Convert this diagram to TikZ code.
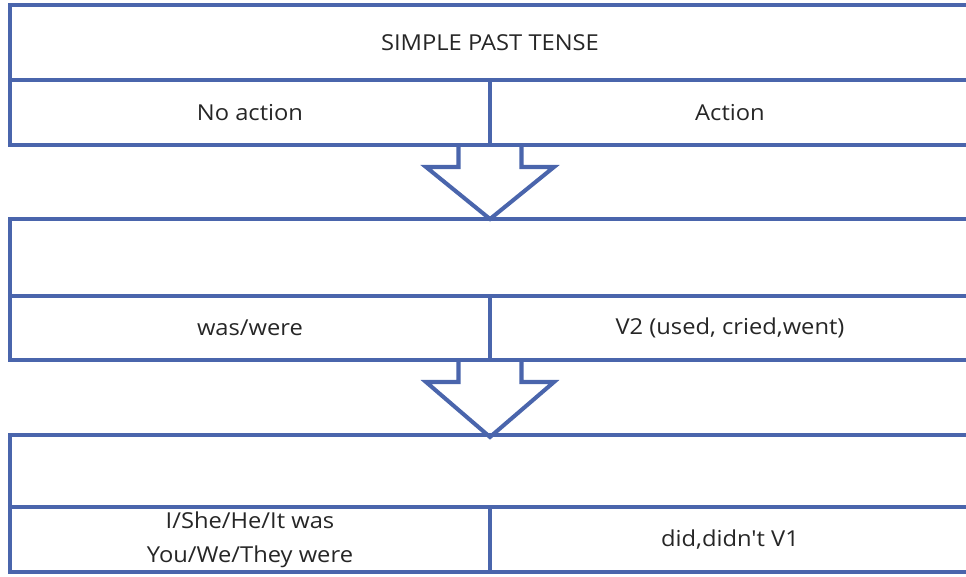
\documentclass[tikz,border=0pt]{standalone}
\usepackage{fontspec}
\setmainfont{Open Sans}[FakeStretch=1.08,Ligatures=TeXOff]
\usetikzlibrary{calc}
\definecolor{tableblue}{RGB}{74,101,172}
\definecolor{textgray}{RGB}{38,38,38}

\begin{document}
\begin{tikzpicture}
    \tikzstyle{frame} = [draw=tableblue, line width=2.3pt, line join=miter]
    \tikzstyle{headrow} = [frame, rectangle, anchor=north west, inner sep=0pt, outer sep=0pt, minimum width=19.2cm, text=textgray, font=\fontsize{12.5}{19.4}\selectfont]
    \tikzstyle{cell} = [frame, rectangle, anchor=north west, inner sep=0pt, outer sep=0pt, minimum width=9.6cm, align=center, text=textgray, font=\fontsize{12.5}{19.4}\selectfont]
    \tikzstyle{blockarrow} = [frame]
    \useasboundingbox (0,0) rectangle (19.32,-11.52);
    \clip (0,0) rectangle (19.32,-11.52);
    % first table
    \node[headrow, minimum height=1.5cm] (title) at (0.2,-0.1) {SIMPLE PAST TENSE};
    \node[cell, minimum height=1.3cm] (noaction) at (title.south west) {No action};
    \node[cell, minimum height=1.3cm] (action) at (noaction.north east) {Action};
    % second table
    \node[headrow, minimum height=1.54cm] (head2) at (0.2,-4.38) {};
    \node[cell, minimum height=1.28cm] (waswere) at (head2.south west) {was/were};
    \node[cell, minimum height=1.28cm] (vtwo) at (waswere.north east) {V2 (used, cried,went)};
    % third table
    \node[headrow, minimum height=1.44cm] (head3) at (0.2,-8.7) {};
    \node[cell, minimum height=1.3cm] (subjects) at (head3.south west) {I/She/He/It was\\You/We/They were};
    \node[cell, minimum height=1.3cm] (did) at (subjects.north east) {did,didn't V1};
    % arrows between the tables
    \coordinate (arrowone) at (noaction.south east);
    \coordinate (arrowtwo) at (waswere.south east);
    \draw[blockarrow] (arrowone) ++(-0.63,0) -- ++(0,-0.44) -- ++(-0.65,0) -- ++(1.28,-1.04)
        -- ++(1.28,1.04) -- ++(-0.65,0) -- ++(0,0.44);
    \draw[blockarrow] (arrowtwo) ++(-0.63,0) -- ++(0,-0.44) -- ++(-0.65,0) -- ++(1.28,-1.10)
        -- ++(1.28,1.10) -- ++(-0.65,0) -- ++(0,0.44);
\end{tikzpicture}
\end{document}
